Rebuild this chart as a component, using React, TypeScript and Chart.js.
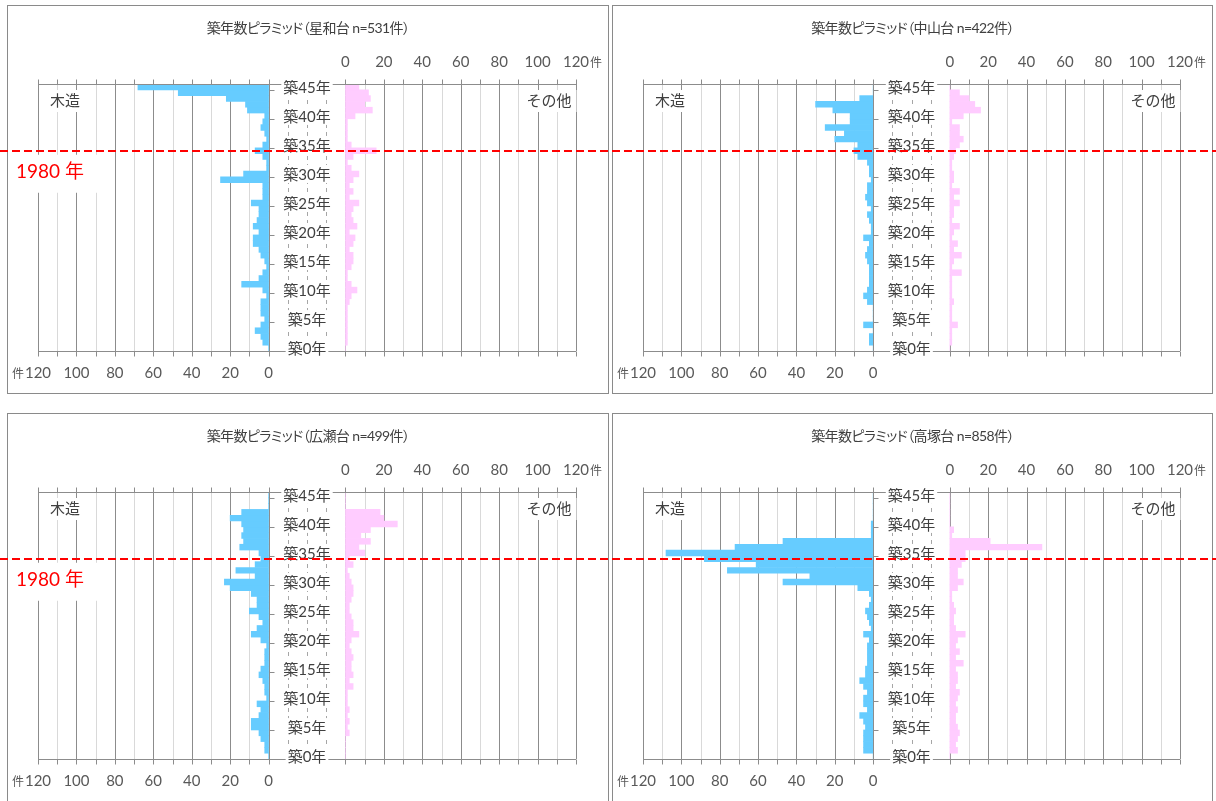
import React, { useEffect, useRef } from "react";
import { Chart, registerables } from "chart.js";

Chart.register(...registerables);

// ---------- categories & labels ----------
const CATEGORIES = [
  "築0年", "築1年", "築2年", "築3年", "築4年", "築5年", "築6年", "築7年", "築8年", "築9年",
  "築10年", "築11年", "築12年", "築13年", "築14年", "築15年", "築16年", "築17年", "築18年", "築19年",
  "築20年", "築21年", "築22年", "築23年", "築24年", "築25年", "築26年", "築27年", "築28年", "築29年",
  "築30年", "築31年", "築32年", "築33年", "築34年", "築35年", "築36年", "築37年", "築38年", "築39年",
  "築40年", "築41年", "築42年", "築43年", "築44年", "築45年",
];
const LABELED_CATEGORIES = ["築0年", "築5年", "築10年", "築15年", "築20年", "築25年", "築30年", "築35年", "築40年", "築45年"];
const LEFT_TICK_LABELS = ["120", "100", "80", "60", "40", "20", "0"];
const RIGHT_TICK_LABELS = ["0", "20", "40", "60", "80", "100", "120"];
const UNIT_LABEL = "件";
const WOOD_LABEL = "木造";
const OTHER_LABEL = "その他";
const MARK_CATEGORY = "築34年";
const MARK_LABEL = "1980 年";

const AXIS_MAX = 120;
const LABEL_GAP = 40;
const GRID_STEP = 10;
const MAJOR_STEP = 20;

// ---------- data (index = 築0年 … 築45年) ----------
const SEIWADAI_WOOD = [0, 3, 4, 7, 4, 2, 4, 4, 4, 1, 3, 14, 5, 3, 1, 2, 4, 5, 8, 8, 5, 8, 6, 5, 5, 9, 3, 3, 3, 25, 13, 1, 1, 3, 7, 3, 1, 2, 4, 3, 2, 11, 12, 22, 47, 68];
const SEIWADAI_OTHER = [0, 1, 1, 1, 1, 1, 1, 1, 2, 3, 6, 3, 1, 1, 3, 4, 4, 2, 4, 5, 2, 6, 4, 3, 4, 7, 2, 4, 2, 4, 7, 3, 1, 4, 16, 3, 1, 1, 1, 1, 5, 14, 10, 13, 12, 7];

const NAKAYAMADAI_WOOD = [0, 2, 2, 0, 5, 0, 0, 0, 3, 5, 3, 2, 2, 2, 2, 3, 4, 3, 2, 5, 1, 1, 2, 3, 1, 3, 4, 3, 3, 1, 2, 2, 3, 8, 10, 8, 20, 15, 25, 12, 12, 21, 30, 7, 0, 0];
const NAKAYAMADAI_OTHER = [0, 1, 1, 1, 4, 1, 1, 1, 2, 1, 1, 1, 1, 6, 1, 2, 6, 2, 4, 1, 2, 5, 1, 2, 2, 5, 2, 5, 1, 2, 2, 1, 1, 2, 3, 5, 7, 5, 5, 1, 7, 16, 13, 10, 5, 0];

const HIROSEDAI_WOOD = [0, 2, 2, 4, 5, 9, 9, 5, 4, 6, 1, 2, 2, 3, 5, 4, 2, 2, 2, 1, 4, 9, 6, 3, 5, 10, 6, 6, 9, 20, 23, 7, 17, 7, 4, 5, 15, 13, 14, 13, 14, 20, 14, 0, 0, 0];
const HIROSEDAI_OTHER = [0, 0, 0, 0, 2, 1, 2, 1, 2, 1, 1, 1, 4, 2, 4, 3, 3, 4, 3, 2, 3, 7, 4, 4, 3, 2, 2, 3, 4, 4, 3, 2, 1, 4, 2, 10, 7, 13, 8, 13, 27, 20, 18, 0, 0, 0];

const TAKATSUKADAI_WOOD = [0, 5, 5, 5, 5, 4, 5, 7, 3, 5, 5, 3, 5, 7, 4, 4, 3, 3, 3, 3, 2, 5, 1, 2, 3, 4, 2, 1, 2, 8, 47, 33, 76, 61, 88, 108, 72, 47, 1, 1, 1, 0, 0, 0, 0, 0];
const TAKATSUKADAI_OTHER = [0, 4, 3, 4, 5, 4, 3, 3, 4, 3, 4, 5, 3, 4, 4, 3, 7, 3, 5, 3, 4, 8, 3, 2, 2, 3, 2, 1, 1, 4, 7, 4, 4, 6, 8, 8, 48, 21, 1, 2, 0, 0, 0, 0, 0, 0];

const PANELS = [
  { title: "築年数ピラミッド（星和台 n=531件）", wood: SEIWADAI_WOOD, other: SEIWADAI_OTHER, mark: true, left: 7, top: 5, width: 602 },
  { title: "築年数ピラミッド（中山台 n=422件）", wood: NAKAYAMADAI_WOOD, other: NAKAYAMADAI_OTHER, mark: false, left: 612, top: 5, width: 601 },
  { title: "築年数ピラミッド（広瀬台 n=499件）", wood: HIROSEDAI_WOOD, other: HIROSEDAI_OTHER, mark: true, left: 7, top: 413, width: 602 },
  { title: "築年数ピラミッド（高塚台 n=858件）", wood: TAKATSUKADAI_WOOD, other: TAKATSUKADAI_OTHER, mark: false, left: 612, top: 413, width: 601 },
];
const PANEL_HEIGHT = 389;

// ---------- styles ----------
const FONT = 'Lato, "Noto Sans CJK JP", sans-serif';
const WOOD_COLOR = "#66CCFF";
const OTHER_COLOR = "#FFCCFF";
const MAJOR_GRID = "#8c8c8c";
const MINOR_GRID = "#d9d9d9";
const DASH_GRID = "#a6a6a6";
const AXIS_COLOR = "#8c8c8c";
const TEXT_COLOR = "#404040";
const NUM_COLOR = "#595959";
const MARK_COLOR = "#FF0000";

function isMajor(v: number) {
  if (v <= -LABEL_GAP) return (-LABEL_GAP - v) % MAJOR_STEP === 0;
  return v % MAJOR_STEP === 0;
}
function isMiddle(v: number) {
  return v > -LABEL_GAP && v < 0;
}
function gridValues() {
  const out: number[] = [];
  for (let v = -LABEL_GAP - AXIS_MAX; v <= AXIS_MAX; v += GRID_STEP) out.push(v);
  return out;
}

function decorPlugin(showMark: boolean) {
  return {
    id: "pyramidDecor",
    beforeDatasetsDraw(chart: any) {
      const { ctx, chartArea: a } = chart;
      const xs = chart.scales.x;
      ctx.save();
      ctx.lineWidth = 1;
      for (const v of gridValues()) {
        const x = Math.round(xs.getPixelForValue(v)) + 0.5;
        const mid = isMiddle(v);
        ctx.setLineDash(mid ? [4, 4] : []);
        ctx.strokeStyle = mid ? DASH_GRID : isMajor(v) ? MAJOR_GRID : MINOR_GRID;
        ctx.beginPath();
        ctx.moveTo(x, a.top);
        ctx.lineTo(x, a.bottom);
        ctx.stroke();
      }
      ctx.restore();
    },
    afterDatasetsDraw(chart: any) {
      const { ctx, chartArea: a } = chart;
      const xs = chart.scales.x;
      const ys = chart.scales.y;
      const catH = (a.bottom - a.top) / CATEGORIES.length;
      ctx.save();
      ctx.setLineDash([]);
      ctx.lineWidth = 1;
      ctx.strokeStyle = AXIS_COLOR;
      const yt = Math.round(a.top) + 0.5;
      const yb = Math.round(a.bottom) + 0.5;
      const ax = Math.round(xs.getPixelForValue(-LABEL_GAP)) + 0.5;
      ctx.beginPath();
      ctx.moveTo(a.left, yt);
      ctx.lineTo(a.right, yt);
      ctx.moveTo(a.left, yb);
      ctx.lineTo(a.right, yb);
      ctx.moveTo(ax, a.top);
      ctx.lineTo(ax, a.bottom);
      for (const v of gridValues()) {
        if (isMiddle(v)) continue;
        const x = Math.round(xs.getPixelForValue(v)) + 0.5;
        ctx.moveTo(x, yt - 5);
        ctx.lineTo(x, yt);
        ctx.moveTo(x, yb);
        ctx.lineTo(x, yb + 5);
      }
      for (const cat of LABELED_CATEGORIES) {
        const y = Math.round(ys.getPixelForValue(CATEGORIES.indexOf(cat)) + catH / 2) + 0.5;
        ctx.moveTo(ax, y);
        ctx.lineTo(ax + 5, y);
      }
      ctx.stroke();

      // category labels with white backing
      ctx.font = `15px ${FONT}`;
      ctx.textAlign = "center";
      ctx.textBaseline = "middle";
      const cx = xs.getPixelForValue(-LABEL_GAP / 2);
      for (const cat of LABELED_CATEGORIES) {
        const yc = ys.getPixelForValue(CATEGORIES.indexOf(cat));
        const w = ctx.measureText(cat).width;
        ctx.fillStyle = "#ffffff";
        ctx.fillRect(cx - w / 2 - 2, yc - 9, w + 4, 18);
        ctx.fillStyle = TEXT_COLOR;
        ctx.fillText(cat, cx, yc + 1);
      }

      // value tick labels
      ctx.fillStyle = NUM_COLOR;
      for (const t of RIGHT_TICK_LABELS) {
        ctx.fillText(t, xs.getPixelForValue(Number(t)), a.top - 22);
      }
      for (const t of LEFT_TICK_LABELS) {
        ctx.fillText(t, xs.getPixelForValue(-LABEL_GAP - Number(t)), a.bottom + 22);
      }
      ctx.font = `12px ${FONT}`;
      ctx.textAlign = "right";
      ctx.fillText(UNIT_LABEL, xs.getPixelForValue(-LABEL_GAP - AXIS_MAX) - 14, a.bottom + 23);
      ctx.textAlign = "left";
      ctx.fillText(UNIT_LABEL, xs.getPixelForValue(AXIS_MAX) + 14, a.top - 21);

      // series labels
      ctx.font = `15px ${FONT}`;
      ctx.textAlign = "center";
      const legendY = a.top + 17;
      const drawBoxed = (txt: string, x: number) => {
        const w = ctx.measureText(txt).width;
        ctx.fillStyle = "#ffffff";
        ctx.fillRect(x - w / 2 - 5, legendY - 11, w + 10, 22);
        ctx.fillStyle = TEXT_COLOR;
        ctx.fillText(txt, x, legendY);
      };
      drawBoxed(WOOD_LABEL, a.left + 27);
      drawBoxed(OTHER_LABEL, a.right - 27);

      if (showMark) {
        const lineY = ys.getPixelForValue(CATEGORIES.indexOf(MARK_CATEGORY));
        ctx.font = `19px ${FONT}`;
        ctx.textAlign = "left";
        const mx = a.left - 22;
        const my = lineY + 21;
        const w = ctx.measureText(MARK_LABEL).width;
        ctx.fillStyle = "#ffffff";
        ctx.fillRect(mx - 8, my - 17, w + 22, 38);
        ctx.fillStyle = MARK_COLOR;
        ctx.fillText(MARK_LABEL, mx, my);
      }
      ctx.restore();
    },
  };
}

function makeConfig(p: (typeof PANELS)[number]): any {
  return {
    type: "bar",
    data: {
      labels: CATEGORIES,
      datasets: [
        {
          label: WOOD_LABEL,
          data: p.wood.map((v) => [-LABEL_GAP - v, -LABEL_GAP]),
          backgroundColor: WOOD_COLOR,
          borderWidth: 0,
          barPercentage: 1,
          categoryPercentage: 1,
          grouped: false,
        },
        {
          label: OTHER_LABEL,
          data: p.other.map((v) => [0, v]),
          backgroundColor: OTHER_COLOR,
          borderWidth: 0,
          barPercentage: 1,
          categoryPercentage: 1,
          grouped: false,
        },
      ],
    },
    options: {
      indexAxis: "y",
      animation: false,
      responsive: false,
      maintainAspectRatio: false,
      devicePixelRatio: 1,
      layout: { padding: { left: 30, right: 32, top: 78, bottom: 42 } },
      plugins: { legend: { display: false }, tooltip: { enabled: false }, title: { display: false } },
      scales: {
        x: { type: "linear", min: -LABEL_GAP - AXIS_MAX, max: AXIS_MAX, display: false },
        y: { type: "category", reverse: true, display: false, offset: true },
      },
    },
    plugins: [decorPlugin(p.mark)],
  };
}

export default function App() {
  const c0 = useRef<HTMLCanvasElement>(null);
  const c1 = useRef<HTMLCanvasElement>(null);
  const c2 = useRef<HTMLCanvasElement>(null);
  const c3 = useRef<HTMLCanvasElement>(null);
  const l0 = useRef<HTMLDivElement>(null);
  const l1 = useRef<HTMLDivElement>(null);
  const canvasRefs = [c0, c1, c2, c3];

  useEffect(() => {
    const charts = PANELS.map((p, i) => new Chart(canvasRefs[i].current as HTMLCanvasElement, makeConfig(p)));
    const rows: [number, React.RefObject<HTMLDivElement>][] = [
      [0, l0],
      [2, l1],
    ];
    for (const [pi, ref] of rows) {
      const ch = charts[pi];
      const y = ch.scales.y.getPixelForValue(CATEGORIES.indexOf(MARK_CATEGORY));
      const el = ref.current;
      if (el) {
        el.style.top = `${PANELS[pi].top + 1 + y - 1}px`;
        el.style.display = "block";
      }
    }
    return () => charts.forEach((c) => c.destroy());
  }, []);

  const dashStyle: React.CSSProperties = {
    position: "absolute",
    left: 0,
    width: 1216,
    height: 2,
    display: "none",
    background: `repeating-linear-gradient(90deg, ${MARK_COLOR} 0px, ${MARK_COLOR} 8px, transparent 8px, transparent 12px)`,
    zIndex: 5,
  };

  return (
    <div style={{ position: "absolute", left: 0, top: 0, width: 1216, height: 801, overflow: "hidden", background: "#ffffff" }}>
      {PANELS.map((p, i) => (
        <div
          key={i}
          style={{
            position: "absolute",
            left: p.left,
            top: p.top,
            width: p.width,
            height: PANEL_HEIGHT,
            boxSizing: "border-box",
            border: "1px solid #8a8a8a",
            background: "#ffffff",
          }}
        >
          <canvas
            ref={canvasRefs[i]}
            width={p.width - 2}
            height={PANEL_HEIGHT - 2}
            style={{ position: "absolute", left: 0, top: 0, width: p.width - 2, height: PANEL_HEIGHT - 2 }}
          />
          <div
            style={{
              position: "absolute",
              left: 0,
              top: 13,
              width: "100%",
              textAlign: "center",
              font: `14px ${FONT}`,
              lineHeight: "18px",
              color: TEXT_COLOR,
              fontFeatureSettings: '"palt"',
              letterSpacing: "-0.6px",
              whiteSpace: "nowrap",
            }}
          >
            {p.title}
          </div>
        </div>
      ))}
      <div ref={l0} style={dashStyle} />
      <div ref={l1} style={dashStyle} />
    </div>
  );
}
